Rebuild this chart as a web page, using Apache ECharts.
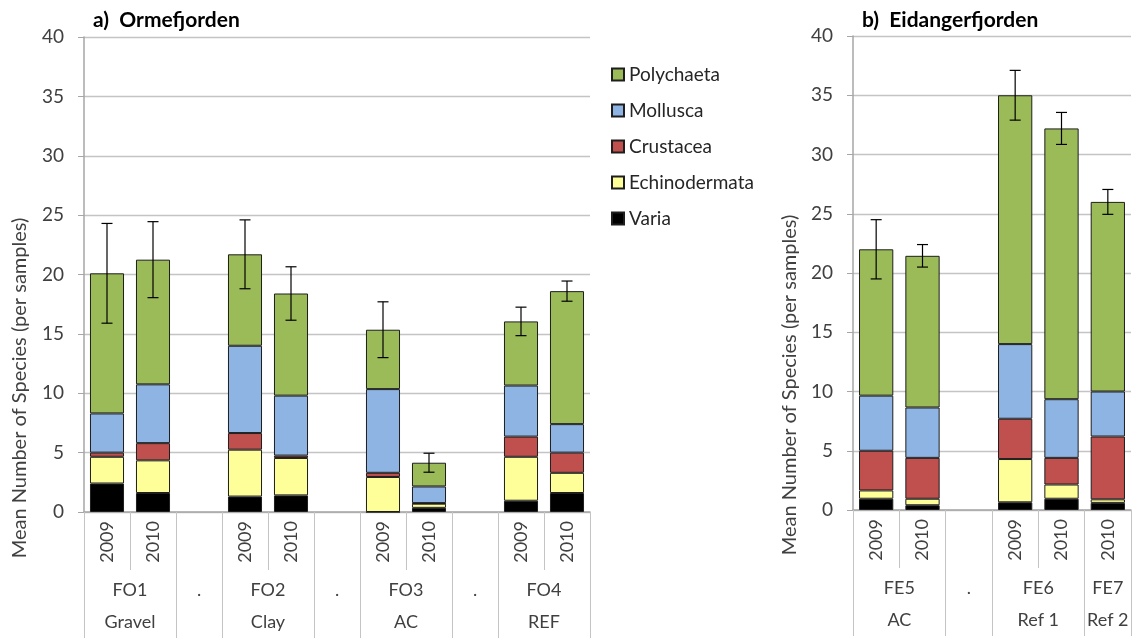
<!DOCTYPE html>
<html><head><meta charset="utf-8">
<script src="https://cdn.jsdelivr.net/npm/echarts@6/dist/echarts.min.js"></script>
<style>html,body{margin:0;padding:0;background:#fff}#c{width:1135px;height:638px}</style>
</head><body><div id="c"></div>
<script>
// ---- data: a) Ormefjorden ----
const yearsA = ['2009','2010','','2009','2010','','2009','2010','','2009','2010'];
const groupsA = ['FO1\nGravel','.','FO2\nClay','.','FO3\nAC','.','FO4\nREF'];
const spansA = [2,1,2,1,2,1,2];
const variaA = [2.4, 1.6, null, 1.3, 1.4, null, 0, 0.35, null, 0.95, 1.6];
const echinoA = [2.25, 2.75, null, 3.95, 3.15, null, 2.95, 0.35, null, 3.7, 1.7];
const crustA = [0.35, 1.45, null, 1.4, 0.2, null, 0.35, 0.05, null, 1.7, 1.7];
const mollA = [3.3, 4.95, null, 7.35, 5.05, null, 7.05, 1.4, null, 4.3, 2.4];
const polyA = [11.8, 10.5, null, 7.7, 8.6, null, 5.0, 2.0, null, 5.4, 11.2];
const errA = [4.2, 3.2, null, 2.9, 2.25, null, 2.35, 0.8, null, 1.2, 0.85];
// ---- data: b) Eidangerfjorden ----
const yearsB = ['2009','2010','','2009','2010','2010'];
const groupsB = ['FE5\nAC','.','FE6\nRef 1','FE7\nRef 2'];
const spansB = [2,1,2,1];
const variaB = [0.95, 0.4, null, 0.65, 0.95, 0.6];
const echinoB = [0.7, 0.55, null, 3.65, 1.2, 0.3];
const crustB = [3.35, 3.45, null, 3.4, 2.25, 5.3];
const mollB = [4.65, 4.25, null, 6.3, 4.95, 3.8];
const polyB = [12.35, 12.8, null, 21.0, 22.85, 16.0];
const errB = [2.5, 0.95, null, 2.1, 1.35, 1.05];
const yTicks = [0,5,10,15,20,25,30,35,40];
const taxa = ['Polychaeta','Mollusca','Crustacea','Echinodermata','Varia'];
const titleA = 'a)  Ormefjorden', titleB = 'b)  Eidangerfjorden';
const yTitle = 'Mean Number of Species (per samples)';

// ---- styling ----
const colors = {Polychaeta:'#9BBB59', Mollusca:'#8EB4E3', Crustacea:'#C0504D', Echinodermata:'#FFFF99', Varia:'#000000'};
const FONT = 'Lato';
const gridCol = '#c4c4c4', axisCol = '#a6a6a6', txtCol = '#404040';

function starts(spans){const s=[];let c=0;spans.forEach(v=>{s.push(c);c+=v;});return s;}
function centers(spans){const s=starts(spans);return s.map((v,i)=>v+spans[i]/2);}

function xAxesFor(gi, years, groups, spans){
  const st = starts(spans), ce = centers(spans), n = years.length;
  return [
    {type:'category', gridIndex:gi, data:years, position:'bottom',
     axisLine:{show:true, lineStyle:{color:axisCol, width:1.5}},
     axisTick:{show:true, interval:0, length:58, lineStyle:{color:gridCol, width:1}},
     axisLabel:{interval:0, rotate:90, margin:9, fontSize:18, color:txtCol, fontFamily:FONT},
     splitLine:{show:false}},
    {type:'category', gridIndex:gi, data:years, position:'bottom',
     axisLine:{show:false},
     axisTick:{show:true, interval:(i)=>st.indexOf(i)>=0, length:126, lineStyle:{color:gridCol, width:1}},
     axisLabel:{show:false}, splitLine:{show:false}},
    {type:'value', gridIndex:gi, min:0, max:n, interval:0.5, position:'bottom',
     axisLine:{show:false}, axisTick:{show:false}, splitLine:{show:false},
     axisLabel:{show:true, showMinLabel:true, showMaxLabel:true, margin:62, fontSize:18, lineHeight:32, color:txtCol, fontFamily:FONT,
       formatter:(v)=>{const k=ce.findIndex(c=>Math.abs(c-v)<1e-6);return k>=0?groups[k]:'';}}}
  ];
}
function yAxisFor(gi){
  return {type:'value', gridIndex:gi, min:0, max:40, interval:5,
    axisLine:{show:true, lineStyle:{color:axisCol, width:1.5}},
    axisTick:{show:true, length:6, lineStyle:{color:axisCol}},
    splitLine:{show:true, lineStyle:{color:gridCol, width:1.3}},
    axisLabel:{margin:20, fontSize:19, color:txtCol, fontFamily:FONT, formatter:(v)=>yTicks.indexOf(v)>=0?String(v):''}};
}
function barSeries(xi, yi, stack, varia, echino, crust, moll, poly){
  const data = {Varia:varia, Echinodermata:echino, Crustacea:crust, Mollusca:moll, Polychaeta:poly};
  return ['Varia','Echinodermata','Crustacea','Mollusca','Polychaeta'].map(name=>({
    name, type:'bar', stack, xAxisIndex:xi, yAxisIndex:yi, barWidth:'74%',
    itemStyle:{color:colors[name], borderColor:'#1e1e1e', borderWidth:1},
    data:data[name]
  }));
}
function errSeries(xi, yi, parts, err){
  const data=[];
  err.forEach((e,i)=>{ if(e==null) return; let t=0; parts.forEach(p=>{t+= (p[i]||0);}); data.push([i,t,e]); });
  return {type:'custom', xAxisIndex:xi, yAxisIndex:yi, z:10, silent:true, encode:{x:0,y:1},
    renderItem:(params, api)=>{
      const x=api.value(0), m=api.value(1), e=api.value(2);
      const top=api.coord([x,m+e]), bot=api.coord([x,m-e]); const cw=5.5;
      const st={stroke:'#000', lineWidth:1.2};
      return {type:'group', children:[
        {type:'line', shape:{x1:top[0],y1:top[1],x2:bot[0],y2:bot[1]}, style:st},
        {type:'line', shape:{x1:top[0]-cw,y1:top[1],x2:top[0]+cw,y2:top[1]}, style:st},
        {type:'line', shape:{x1:bot[0]-cw,y1:bot[1],x2:bot[0]+cw,y2:bot[1]}, style:st}
      ]};
    }, data};
}

const chart = echarts.init(document.getElementById('c'), null, {renderer:'canvas'});
const option = {
  animation:false,
  textStyle:{fontFamily:FONT},
  title:[
    {text:titleA, left:88, top:5, textStyle:{fontSize:21, fontWeight:'bold', color:'#000', fontFamily:FONT}},
    {text:titleB, left:857, top:5, textStyle:{fontSize:21, fontWeight:'bold', color:'#000', fontFamily:FONT}}
  ],
  legend:{data:taxa, orient:'vertical', left:606, top:60, itemGap:17, itemWidth:12, itemHeight:12, icon:'rect',
    textStyle:{fontSize:19, color:'#262626', fontFamily:FONT}},
  grid:[
    {left:84, top:37, width:506, height:476},
    {left:853, top:36, width:278, height:474}
  ],
  xAxis:[...xAxesFor(0, yearsA, groupsA, spansA), ...xAxesFor(1, yearsB, groupsB, spansB)],
  yAxis:[yAxisFor(0), yAxisFor(1)],
  graphic:[
    {type:'text', x:20, y:388, rotation:Math.PI/2, style:{text:yTitle, fontSize:20, fill:txtCol, fontFamily:FONT, align:'center', verticalAlign:'middle'}},
    {type:'text', x:790, y:385, rotation:Math.PI/2, style:{text:yTitle, fontSize:20, fill:txtCol, fontFamily:FONT, align:'center', verticalAlign:'middle'}}
  ],
  series:[
    ...barSeries(0, 0, 'a', variaA, echinoA, crustA, mollA, polyA),
    errSeries(0, 0, [variaA, echinoA, crustA, mollA, polyA], errA),
    ...barSeries(3, 1, 'b', variaB, echinoB, crustB, mollB, polyB),
    errSeries(3, 1, [variaB, echinoB, crustB, mollB, polyB], errB)
  ]
};
chart.setOption(option);
</script></body></html>
